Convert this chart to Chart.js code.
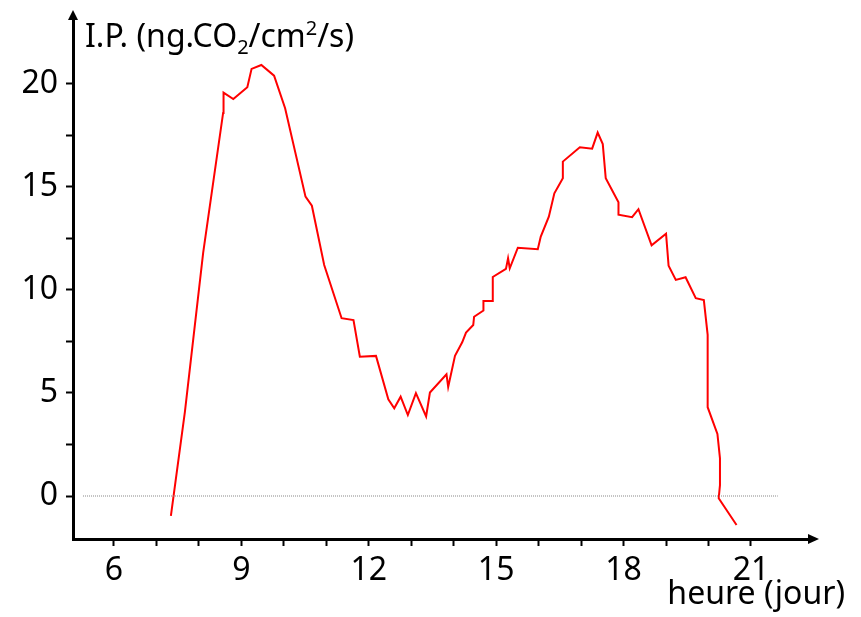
<!DOCTYPE html>
<html lang="fr">
<head>
	<meta charset="UTF-8">
	<title>I.P. au cours de la journée</title>
	<style>
		body { margin: 0; background: #fff; }
	</style>
</head>
<body>

	<canvas id="ip-chart" width="861" height="617"></canvas>

	<script src="https://cdn.jsdelivr.net/npm/chart.js"></script>
	<script>
		// heure (jour)
		var heures = [7.34, 7.67, 8.10, 8.57, 8.58, 8.81, 9.14, 9.24, 9.47, 9.77,
			10.03, 10.51, 10.66, 10.95, 11.36, 11.64, 11.79, 12.17, 12.46, 12.60,
			12.75, 12.92, 13.11, 13.35, 13.44, 13.83, 13.87, 14.03, 14.20, 14.29,
			14.46, 14.48, 14.70, 14.70, 14.92, 14.92, 15.23, 15.28, 15.32, 15.51,
			15.98, 16.05, 16.24, 16.37, 16.57, 16.57, 16.97, 17.26, 17.39, 17.51,
			17.58, 17.88, 17.88, 18.20, 18.35, 18.66, 19.00, 19.06, 19.23, 19.46,
			19.70, 19.89, 19.98, 19.98, 20.21, 20.27, 20.27, 20.24, 20.66];
		// I.P. (ng.CO2/cm2/s)
		var ip = [-0.97, 4.08, 11.80, 18.59, 19.58, 19.27, 19.84, 20.73, 20.92, 20.40,
			18.82, 14.53, 14.09, 11.21, 8.63, 8.54, 6.76, 6.80, 4.69, 4.26,
			4.82, 3.93, 4.99, 3.86, 5.02, 5.91, 5.29, 6.80, 7.46, 7.93,
			8.30, 8.70, 9.00, 9.47, 9.47, 10.63, 11.02, 11.54, 11.05, 12.05,
			11.98, 12.59, 13.56, 14.69, 15.42, 16.23, 16.93, 16.86, 17.64, 17.08,
			15.42, 14.26, 13.65, 13.53, 13.92, 12.17, 12.73, 11.18, 10.49, 10.62,
			9.60, 9.51, 7.82, 4.31, 3.01, 1.83, 0.53, -0.11, -1.41];

		// ligne du zéro (pointillés)
		var zeroX = [5.27, 21.63];
		var zeroY = [0, 0];

		var xTicks = [6, 7, 8, 9, 10, 11, 12, 13, 14, 15, 16, 17, 18, 19, 20, 21];
		var yTicks = [0, 2.5, 5, 7.5, 10, 12.5, 15, 17.5, 20];

		var police = 'Noto Sans';

		// flèches des axes + titres
		var axesPlugin = {
			id: 'axes',
			afterDraw: function(chart) {
				var ctx = chart.ctx;
				var a = chart.chartArea;
				ctx.save();
				ctx.fillStyle = '#000';
				// flèche x
				ctx.beginPath();
				ctx.moveTo(a.right - 2, a.bottom - 5);
				ctx.lineTo(a.right + 9, a.bottom);
				ctx.lineTo(a.right - 2, a.bottom + 5);
				ctx.closePath();
				ctx.fill();
				// flèche y
				ctx.beginPath();
				ctx.moveTo(a.left - 5, a.top + 2);
				ctx.lineTo(a.left, a.top - 8);
				ctx.lineTo(a.left + 5, a.top + 2);
				ctx.closePath();
				ctx.fill();

				// titre y : I.P. (ng.CO2/cm2/s)
				ctx.textBaseline = 'alphabetic';
				ctx.textAlign = 'left';
				var x = 85, y = 47;
				var parts = [
					['I.P. (ng.CO', 32, 0],
					['2', 20, 7],
					['/cm', 32, 0],
					['2', 20, -12],
					['/s)', 32, 0]
				];
				parts.forEach(function(p) {
					ctx.font = p[1] + 'px "' + police + '"';
					ctx.fillText(p[0], x, y + p[2]);
					x += ctx.measureText(p[0]).width;
				});

				// titre x
				ctx.font = '32px "' + police + '"';
				ctx.textAlign = 'right';
				ctx.fillText('heure (jour)', 845, 604);
				ctx.restore();
			}
		};

		new Chart(document.getElementById('ip-chart'), {
			type: 'scatter',
			data: {
				datasets: [
					{
						data: zeroX.map(function(v, i) { return { x: v, y: zeroY[i] }; }),
						showLine: true,
						borderColor: '#888',
						borderWidth: 1,
						borderDash: [1, 1],
						pointRadius: 0
					},
					{
						data: heures.map(function(v, i) { return { x: v, y: ip[i] }; }),
						showLine: true,
						borderColor: '#ff0000',
						borderWidth: 2,
						pointRadius: 0,
						tension: 0
					}
				]
			},
			options: {
				responsive: false,
				animation: false,
				layout: { padding: { top: 18, right: 51, left: 0, bottom: 0 } },
				plugins: {
					legend: { display: false },
					tooltip: { enabled: false }
				},
				scales: {
					x: {
						type: 'linear',
						min: 5.035,
						max: 22.39,
						afterFit: function(scale) {
							scale.height = 78;
							scale.paddingLeft = 0;
							scale.paddingRight = 0;
						},
						afterBuildTicks: function(scale) {
							scale.ticks = xTicks.map(function(v) { return { value: v }; });
						},
						grid: { drawOnChartArea: false, drawTicks: true, tickLength: 7, tickWidth: 2, tickColor: '#000' },
						border: { display: true, color: '#000', width: 3 },
						ticks: {
							autoSkip: false,
							maxRotation: 0,
							padding: 6,
							color: '#000',
							font: { family: police, size: 32 },
							callback: function(v) { return v % 3 === 0 ? v : ''; }
						}
					},
					y: {
						type: 'linear',
						min: -2.087,
						max: 23.2,
						afterFit: function(scale) {
							scale.width = 73;
							scale.paddingTop = 0;
							scale.paddingBottom = 0;
						},
						afterBuildTicks: function(scale) {
							scale.ticks = yTicks.map(function(v) { return { value: v }; });
						},
						grid: { drawOnChartArea: false, drawTicks: true, tickLength: 7, tickWidth: 2, tickColor: '#000' },
						border: { display: true, color: '#000', width: 3 },
						ticks: {
							autoSkip: false,
							padding: 8,
							color: '#000',
							font: { family: police, size: 32 },
							callback: function(v) { return v % 5 === 0 ? v : ''; }
						}
					}
				}
			},
			plugins: [axesPlugin]
		});
	</script>
</body>
</html>
